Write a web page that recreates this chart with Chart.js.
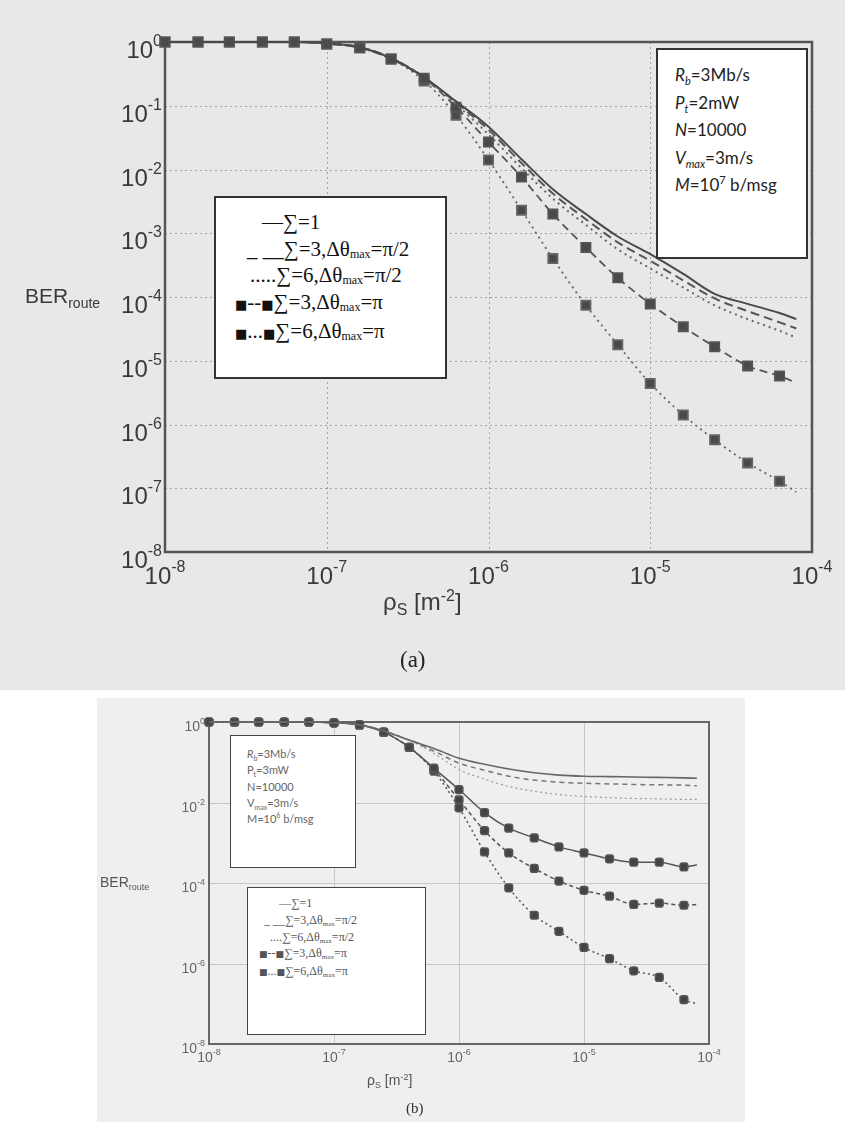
<!DOCTYPE html>
<html>
<head>
<meta charset="utf-8">
<script src="https://cdn.jsdelivr.net/npm/chart.js@4.4.1/dist/chart.umd.min.js"></script>
<style>
  body { margin: 0; width: 845px; height: 1129px; background: #fff; position: relative; overflow: hidden; font-family: "Liberation Sans", Arial, sans-serif; color: #333; }
  #figA { position: absolute; left: 0; top: 0; width: 845px; height: 690px; background: #e8e8e8; }
  #figB { position: absolute; left: 97px; top: 698px; width: 648px; height: 424px; background: #efefef; }
  canvas { position: absolute; }
  .box { position: absolute; background: #fff; box-sizing: border-box; }
  .box > div { white-space: nowrap; }
  .t { position: absolute; white-space: nowrap; }
  sub, sup { line-height: 0; }
  .leg { font-family: "Liberation Serif", "Times New Roman", serif; }
  .leg sub { vertical-align: -2px; }
  .par { font-family: Lato, "Open Sans", sans-serif; }
  .sq { font-family: "DejaVu Sans", sans-serif; }
</style>
</head>
<body>
<div id="figA"></div>
<div id="figB"></div>
<canvas id="chartA" width="845" height="690" style="left:0;top:0"></canvas>
<canvas id="chartB" width="648" height="424" style="left:97px;top:698px"></canvas>

<!-- (a) texte -->
<div class="t" style="left:25px;top:283px;font-size:21px;line-height:25px;color:#3a3a3a">BER<sub style="font-size:14px;vertical-align:-5px">route</sub></div>
<div class="t" style="left:383px;top:588px;font-size:24px;line-height:28px;color:#3a3a3a">ρ<sub style="font-size:16px;vertical-align:-5px">S</sub> [m<sup style="font-size:16px;vertical-align:9px">-2</sup>]</div>
<div class="t" style="left:400px;top:646px;font-size:23px;line-height:28px;font-family:'Liberation Serif',serif;color:#222">(a)</div>

<div class="box leg" style="left:214px;top:196px;width:233px;height:183px;border:2px solid #333;font-size:21px;line-height:26.5px;padding-top:11px;color:#111">
  <div style="padding-left:46px">—∑=1</div>
  <div style="padding-left:31px">_ __∑=3,Δθ<sub style="font-size:12px">max</sub>=π/2</div>
  <div style="padding-left:34px">.....∑=6,Δθ<sub style="font-size:12px">max</sub>=π/2</div>
  <div style="padding-left:19px"><span class="sq" style="font-size:13px">■</span>--<span class="sq" style="font-size:13px">■</span>∑=3,Δθ<sub style="font-size:12px">max</sub>=π</div>
  <div style="padding-left:19px"><span class="sq" style="font-size:13px">■</span>...<span class="sq" style="font-size:13px">■</span>∑=6,Δθ<sub style="font-size:12px">max</sub>=π</div>
</div>

<div class="box par" style="left:656px;top:48px;width:152px;height:211px;border:2px solid #333;font-size:17px;line-height:27.5px;padding:11px 0 0 17px;color:#222">
  <div><i>R</i><sub style="font-size:11px"><i>b</i></sub>=3Mb/s</div>
  <div><i>P</i><sub style="font-size:11px"><i>t</i></sub>=2mW</div>
  <div><i>N</i>=10000</div>
  <div><i>V</i><sub style="font-size:11px"><i>max</i></sub>=3m/s</div>
  <div><i>M</i>=10<sup style="font-size:11px">7</sup> b/msg</div>
</div>

<!-- (b) texte -->
<div class="t" style="left:100px;top:874px;font-size:14px;line-height:17px;color:#555">BER<sub style="font-size:9px;vertical-align:-3px">route</sub></div>
<div class="t" style="left:367px;top:1072px;font-size:14px;line-height:17px;color:#555">ρ<sub style="font-size:9px;vertical-align:-3px">S</sub> [m<sup style="font-size:9px;vertical-align:5px">-2</sup>]</div>
<div class="t" style="left:406px;top:1099px;font-size:15px;line-height:18px;font-family:'Liberation Serif',serif;color:#333">(b)</div>

<div class="box par" style="left:230px;top:735px;width:126px;height:133px;border:1.5px solid #444;font-size:11px;line-height:16.3px;padding:10px 0 0 16px;color:#666">
  <div><i>R</i><sub style="font-size:7px">b</sub>=3Mb/s</div>
  <div>P<sub style="font-size:7px">t</sub>=3mW</div>
  <div>N=10000</div>
  <div>V<sub style="font-size:7px">max</sub>=3m/s</div>
  <div>M=10<sup style="font-size:7px">6</sup> b/msg</div>
</div>

<div class="box leg" style="left:247px;top:887px;width:179px;height:148px;border:1.5px solid #444;font-size:12px;line-height:16.8px;padding-top:7px;color:#555">
  <div style="padding-left:31px">—∑=1</div>
  <div style="padding-left:16px">_ __∑=3,Δθ<sub style="font-size:7px">max</sub>=π/2</div>
  <div style="padding-left:22px">....∑=6,Δθ<sub style="font-size:7px">max</sub>=π/2</div>
  <div style="padding-left:11px"><span class="sq" style="font-size:9px">■</span>--<span class="sq" style="font-size:9px">■</span>∑=3,Δθ<sub style="font-size:7px">max</sub>=π</div>
  <div style="padding-left:11px"><span class="sq" style="font-size:9px">■</span>...<span class="sq" style="font-size:9px">■</span>∑=6,Δθ<sub style="font-size:7px">max</sub>=π</div>
</div>

<script>
// ---------------------
// Données
// ---------------------
const rho = [1e-8, 1.6e-8, 2.5e-8, 4e-8, 6.3e-8, 1e-7, 1.6e-7, 2.5e-7, 4e-7, 6.3e-7,
             1e-6, 1.6e-6, 2.5e-6, 4e-6, 6.3e-6, 1e-5, 1.6e-5, 2.5e-5, 4e-5, 6.3e-5, 8e-5];

const xTicks = [1e-8, 1e-7, 1e-6, 1e-5, 1e-4];
const xTickExp = ['-8', '-7', '-6', '-5', '-4'];
const yTicksA = [1, 1e-1, 1e-2, 1e-3, 1e-4, 1e-5, 1e-6, 1e-7, 1e-8];
const yTickExpA = ['0', '-1', '-2', '-3', '-4', '-5', '-6', '-7', '-8'];
const yTicksB = [1, 1e-2, 1e-4, 1e-6, 1e-8];
const yTickExpB = ['0', '-2', '-4', '-6', '-8'];

// (a)
const aSum1    = [1, 1, 1, 1, 1, 0.955, 0.83, 0.56, 0.28, 0.117, 0.047, 0.0145, 4.9e-3, 2.0e-3, 8.9e-4, 4.7e-4, 2.3e-4, 1.12e-4, 7.8e-5, 5.6e-5, 4.5e-5];
const aSum3Pi2 = [1, 1, 1, 1, 1, 0.955, 0.83, 0.56, 0.28, 0.112, 0.042, 0.0126, 4.2e-3, 1.66e-3, 7.2e-4, 3.7e-4, 1.82e-4, 9.5e-5, 6.0e-5, 4.0e-5, 3.2e-5];
const aSum6Pi2 = [1, 1, 1, 1, 1, 0.955, 0.83, 0.56, 0.28, 0.105, 0.0355, 0.0105, 3.5e-3, 1.35e-3, 5.6e-4, 2.8e-4, 1.41e-4, 7.4e-5, 4.5e-5, 2.95e-5, 2.3e-5];
const aSum3Pi  = [1, 1, 1, 1, 1, 0.93, 0.81, 0.54, 0.27, 0.095, 0.027, 7.6e-3, 2.0e-3, 6.0e-4, 2.0e-4, 7.8e-5, 3.4e-5, 1.66e-5, 8.3e-6, 5.75e-6, 4.5e-6];
const aSum6Pi  = [1, 1, 1, 1, 1, 0.93, 0.81, 0.54, 0.245, 0.071, 0.0141, 2.3e-3, 4.0e-4, 7.4e-5, 1.78e-5, 4.4e-6, 1.41e-6, 5.75e-7, 2.5e-7, 1.29e-7, 8.7e-8];

// (b)
const bSum1    = [1, 1, 1, 1, 1, 0.955, 0.85, 0.60, 0.355, 0.22, 0.126, 0.089, 0.068, 0.055, 0.048, 0.045, 0.044, 0.043, 0.042, 0.041, 0.040];
const bSum3Pi2 = [1, 1, 1, 1, 1, 0.955, 0.85, 0.60, 0.355, 0.19, 0.095, 0.063, 0.045, 0.036, 0.032, 0.030, 0.029, 0.028, 0.0275, 0.027, 0.026];
const bSum6Pi2 = [1, 1, 1, 1, 1, 0.955, 0.85, 0.60, 0.355, 0.166, 0.066, 0.038, 0.025, 0.019, 0.0158, 0.0141, 0.0132, 0.0126, 0.0123, 0.012, 0.012];
const bMark1   = [1, 1, 1, 1, 1, 0.955, 0.85, 0.56, 0.234, 0.071, 0.021, 5.6e-3, 2.3e-3, 1.32e-3, 7.9e-4, 5.6e-4, 4.0e-4, 3.3e-4, 3.3e-4, 2.5e-4, 2.8e-4];
const bMark2   = [1, 1, 1, 1, 1, 0.955, 0.85, 0.56, 0.234, 0.066, 0.0117, 2.0e-3, 5.6e-4, 2.3e-4, 1.12e-4, 6.6e-5, 4.7e-5, 2.95e-5, 3.16e-5, 2.8e-5, 2.95e-5];
const bMark3   = [1, 1, 1, 1, 1, 0.955, 0.85, 0.56, 0.234, 0.060, 7.4e-3, 5.9e-4, 7.6e-5, 1.58e-5, 6.3e-6, 2.5e-6, 1.32e-6, 6.6e-7, 4.5e-7, 1.26e-7, 1.0e-7];

// ---------------------
// Helpers
// ---------------------
const pts = ys => rho.map((x, i) => ({ x, y: ys[i] }));
const lastIdx = rho.length - 1;

function serie(ys, opts) {
  return Object.assign({
    data: pts(ys),
    showLine: true,
    borderColor: '#555',
    backgroundColor: '#555',
    borderWidth: 2,
    pointRadius: 0,
    clip: false,
    cubicInterpolationMode: 'monotone'
  }, opts);
}

function drawPow(ctx, exp, x, y, align, f) {
  ctx.font = f.base;
  const w1 = ctx.measureText('10').width;
  ctx.font = f.sup;
  const w2 = ctx.measureText(exp).width;
  const x0 = align === 'right' ? x - w1 - w2 : x - (w1 + w2) / 2;
  ctx.textAlign = 'left';
  ctx.textBaseline = 'alphabetic';
  ctx.font = f.base;
  ctx.fillText('10', x0, y);
  ctx.font = f.sup;
  ctx.fillText(exp, x0 + w1, y - f.rise);
}

// grille, cadre et étiquettes 10^n
function axesPlugin(c) {
  return {
    id: 'logAxes',
    beforeDatasetsDraw(chart) {
      const { ctx, chartArea: a, scales: { x, y } } = chart;
      ctx.save();
      ctx.strokeStyle = c.grid;
      ctx.lineWidth = 1;
      ctx.setLineDash(c.dash);
      c.xt.forEach(v => {
        const p = Math.round(x.getPixelForValue(v)) + 0.5;
        ctx.beginPath(); ctx.moveTo(p, a.top); ctx.lineTo(p, a.bottom); ctx.stroke();
      });
      c.yt.forEach(v => {
        const p = Math.round(y.getPixelForValue(v)) + 0.5;
        ctx.beginPath(); ctx.moveTo(a.left, p); ctx.lineTo(a.right, p); ctx.stroke();
      });
      ctx.setLineDash([]);
      ctx.strokeStyle = c.frame;
      ctx.lineWidth = c.fw;
      ctx.strokeRect(a.left, a.top, a.right - a.left, a.bottom - a.top);
      ctx.fillStyle = c.text;
      c.xt.forEach((v, i) => drawPow(ctx, c.xe[i], x.getPixelForValue(v), a.bottom + c.xOff, 'center', c.font));
      c.yt.forEach((v, i) => drawPow(ctx, c.ye[i], a.left - c.yGap, y.getPixelForValue(v) + c.yOff, 'right', c.font));
      ctx.restore();
    }
  };
}

function baseOptions(pad, xh, yw, ymin) {
  return {
    responsive: false,
    animation: false,
    devicePixelRatio: 1,
    layout: { padding: pad },
    plugins: { legend: { display: false }, tooltip: { enabled: false } },
    scales: {
      x: { type: 'logarithmic', min: 1e-8, max: 1e-4, grid: { display: false }, border: { display: false },
           ticks: { display: false }, afterFit: s => { s.height = xh; } },
      y: { type: 'logarithmic', min: ymin, max: 1, grid: { display: false }, border: { display: false },
           ticks: { display: false }, afterFit: s => { s.width = yw; } }
    }
  };
}

// ---------------------
// (a)
// ---------------------
const markA = { pointStyle: 'rect', pointRadius: c => c.dataIndex < lastIdx ? 6.5 : 0, borderWidth: 1.8, backgroundColor: '#4a4a4a' };

new Chart(document.getElementById('chartA'), {
  type: 'scatter',
  data: {
    datasets: [
      serie(aSum1, { borderColor: '#4a4a4a' }),
      serie(aSum3Pi2, { borderDash: [9, 5], borderColor: '#555' }),
      serie(aSum6Pi2, { borderDash: [2, 4], borderColor: '#666' }),
      serie(aSum3Pi, Object.assign({ borderDash: [8, 5] }, markA)),
      serie(aSum6Pi, Object.assign({ borderDash: [2, 4], borderColor: '#666' }, markA))
    ]
  },
  options: baseOptions({ top: 42, right: 33, left: 0, bottom: 0 }, 138, 165, 1e-8),
  plugins: [axesPlugin({
    xt: xTicks, xe: xTickExp, yt: yTicksA, ye: yTickExpA,
    grid: '#a2a2a2', dash: [2, 3], frame: '#555', fw: 2.5, text: '#3a3a3a',
    xOff: 32, yGap: 3, yOff: 16,
    font: { base: '24px "Liberation Sans", Arial, sans-serif', sup: '16px "Liberation Sans", Arial, sans-serif', rise: 12 }
  })]
});

// ---------------------
// (b)
// ---------------------
const markB = { pointStyle: 'rectRounded', pointRadius: c => c.dataIndex < lastIdx ? 4.5 : 0, borderWidth: 1.5, borderColor: '#555', backgroundColor: '#444' };

new Chart(document.getElementById('chartB'), {
  type: 'scatter',
  data: {
    datasets: [
      serie(bSum1, { borderWidth: 1.6, borderColor: '#666' }),
      serie(bSum3Pi2, { borderWidth: 1.5, borderDash: [5, 4], borderColor: '#777' }),
      serie(bSum6Pi2, { borderWidth: 1.2, borderDash: [2, 3], borderColor: '#999' }),
      serie(bMark1, Object.assign({}, markB)),
      serie(bMark2, Object.assign({ borderDash: [4, 3] }, markB)),
      serie(bMark3, Object.assign({ borderDash: [2, 3] }, markB))
    ]
  },
  options: baseOptions({ top: 24, right: 36, left: 0, bottom: 0 }, 78, 112, 1e-8),
  plugins: [axesPlugin({
    xt: xTicks, xe: xTickExp, yt: yTicksB, ye: yTickExpB,
    grid: '#c8c8c8', dash: [], frame: '#666', fw: 2, text: '#666',
    xOff: 18, yGap: 4, yOff: 9,
    font: { base: '14px "Liberation Sans", Arial, sans-serif', sup: '9px "Liberation Sans", Arial, sans-serif', rise: 7 }
  })]
});
</script>
</body>
</html>
